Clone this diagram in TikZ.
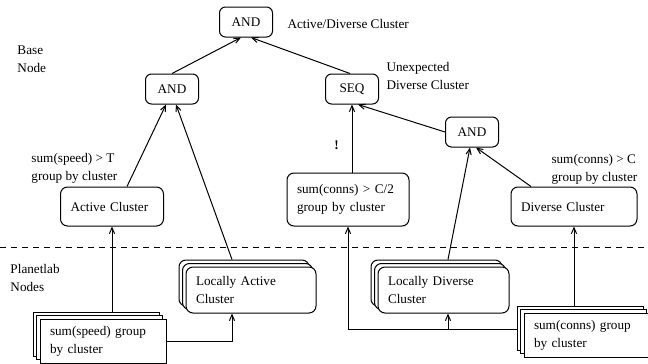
\documentclass[tikz,border=0pt]{standalone}
\usepackage{fontspec}
\setmainfont{Liberation Serif}
\usetikzlibrary{arrows.meta,shadows}
\tikzset{
	opbox/.style={draw, fill=white, rounded corners=3pt, minimum width=26.5pt, minimum height=15pt, inner sep=0pt},
	qbox/.style={draw, fill=white, rounded corners=3.5pt, align=left, inner xsep=5pt, inner ysep=0pt},
	stackbox/.style={double copy shadow={shadow xshift=-1.75pt, shadow yshift=1.75pt}},
	arr/.style={-{Straight Barb[length=3pt,width=2.6pt]}},
	lbl/.style={anchor=west, align=left, inner sep=0pt}
}
\begin{document}
\begin{tikzpicture}[x=0.5pt, y=-0.5pt, line width=0.5pt, font=\fontsize{6.6}{9}\selectfont]
	\useasboundingbox (0,0) rectangle (648,364);
	%
	% operators
	\node[opbox] at (246,22) (topand) {AND};
	\node[opbox] at (172,89) (leftand) {AND};
	\node[opbox] at (352,89) (seq) {SEQ};
	\node[opbox] at (472,132) (rightand) {AND};
	%
	% base node queries
	\node[qbox, text width=41.5pt, minimum height=19.5pt] at (112,206.5) (active) {Active Cluster};
	\node[qbox, text width=51pt, minimum height=26.5pt] at (348,199.5) (half) {sum(conns) > C/2\\group by cluster};
	\node[qbox, text width=53pt, minimum height=19.5pt] at (574,206.5) (diverse) {Diverse Cluster};
	%
	% planetlab nodes
	\node[qbox, stackbox, text width=55pt, minimum height=23pt] at (251,290) (localact) {Locally Active\\Cluster};
	\node[qbox, stackbox, text width=55.5pt, minimum height=23pt] at (443.5,290) (localdiv) {Locally Diverse\\Cluster};
	\node[qbox, stackbox, sharp corners, text width=53pt, minimum height=22pt] at (103,341) (sumspeed) {sum(speed) group\\by cluster};
	\node[qbox, stackbox, sharp corners, text width=53pt, minimum height=22pt] at (587,335) (sumconns) {sum(conns) group\\by cluster};
	%
	\draw[dash pattern=on 3pt off 2.5pt] (0,247) -- (648,247);
	%
	% labels
	\node[lbl] at (287,24) (toplbl) {Active/Diverse Cluster};
	\node[lbl] at (17,59) (baselbl) {Base\\Node};
	\node[lbl] at (386,76) (seqlbl) {Unexpected\\Diverse Cluster};
	\node[lbl] at (31,168) (speedlbl) {sum(speed) > T\\group by cluster};
	\node[lbl] at (551,169) (connslbl) {sum(conns) > C\\group by cluster};
	\node[lbl] at (10,278) (planetlbl) {Planetlab\\Nodes};
	%
	% upper tree
	\draw[arr] (leftand.north) -- ([xshift=-2.5pt]topand.south);
	\draw[arr] ([xshift=-1pt]seq.north) -- ([xshift=2.5pt]topand.south);
	\draw[arr] ([xshift=7.5pt]active.north) -- ([xshift=-3pt]leftand.south);
	\draw[arr] ([xshift=-9.5pt,yshift=3.5pt]localact.north) -- ([xshift=2pt]leftand.south);
	\draw[arr] (half.north -| seq.south) -- node[left=3pt, pos=.4]{\textbf{!}} (seq.south);
	\draw[arr] (rightand.west) -- ([xshift=3pt]seq.south);
	\draw[arr] ([xshift=2.25pt,yshift=3.5pt]localdiv.north) -- ([xshift=-1pt]rightand.south);
	\draw[arr] ([xshift=-21.5pt]diverse.north) -- ([xshift=2pt]rightand.south);
	%
	% feeds from the planetlab nodes
	\draw[arr] ([yshift=3.5pt]sumspeed.north -| active.south) -- (active.south);
	\draw[arr] (sumspeed.east) -| ([xshift=-9.5pt]localact.south);
	\draw[arr] ([yshift=3.5pt]sumconns.north -| diverse.south) -- (diverse.south);
	\coordinate (connsbus) at ([xshift=-3.5pt,yshift=3pt]sumconns.west);
	\draw[arr] (connsbus) -| (half.south);
	\draw[arr] ([xshift=2.25pt]connsbus -| localdiv.south) -- ([xshift=2.25pt]localdiv.south);
	%
\end{tikzpicture}
\end{document}
